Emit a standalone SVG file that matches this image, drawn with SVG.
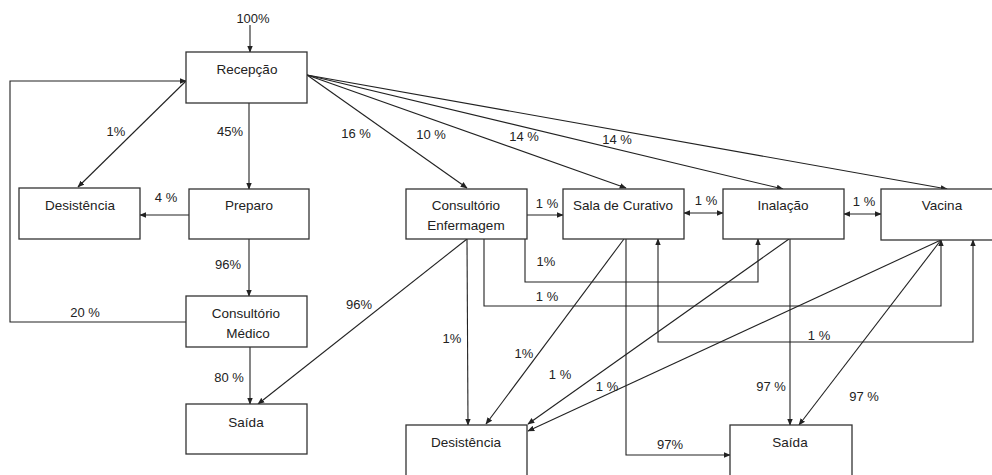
<svg xmlns="http://www.w3.org/2000/svg" width="992" height="475" viewBox="0 0 992 475">
<defs>
<marker id="ah" viewBox="0 0 10 10" refX="9" refY="5" markerWidth="7" markerHeight="7" orient="auto-start-reverse" markerUnits="userSpaceOnUse">
<path d="M0,1 L10,5 L0,9 z" fill="#222"/>
</marker>
<style>
.box{fill:#fff;stroke:#333;stroke-width:1.3}
.t{font-family:"Liberation Sans",Arial,sans-serif;font-size:13.5px;fill:#222;text-anchor:middle}
.l{font-family:"Liberation Sans",Arial,sans-serif;font-size:13px;fill:#222;text-anchor:middle}
.c{fill:none;stroke:#222;stroke-width:1.1}
.a{marker-end:url(#ah)}
.b{marker-start:url(#ah);marker-end:url(#ah)}
</style>
</defs>
<rect width="992" height="475" fill="#fff"/>
<g id="connectors">
<path class="c a" d="M250,25 V52"/>
<path class="c a" d="M249,103 V189"/>
<path class="c a" d="M189,215 H140"/>
<path class="c a" d="M186,81 L78,187"/>
<path class="c a" d="M249,239 V296"/>
<path class="c a" d="M186,322 H10 V81 H186"/>
<path class="c a" d="M250,347 V404"/>
<path class="c a" d="M467,239 L258,404"/>
<path class="c a" d="M467,239 L468,425"/>
<path class="c a" d="M307,75 L467,188"/>
<path class="c a" d="M307,75 L626,188"/>
<path class="c a" d="M307,75 L783,189"/>
<path class="c a" d="M307,75 L947,189"/>
<path class="c a" d="M527,215 H563"/>
<path class="c b" d="M684,213 H723"/>
<path class="c b" d="M844,214 H881"/>
<path class="c a" d="M525,239 V282 H758 V239"/>
<path class="c a" d="M484,239 V306 H941 V240"/>
<path class="c b" d="M658,239 V342 H973 V240"/>
<path class="c a" d="M626,239 V455 H730"/>
<path class="c a" d="M624,239 L486,424"/>
<path class="c a" d="M789,239 L528,424"/>
<path class="c a" d="M790,239 V425"/>
<path class="c a" d="M941,240 L528,431"/>
<path class="c a" d="M941,240 L799,425"/>
</g>
<g id="labels">
<text class="l" x="253" y="23">100%</text>
<text class="l" x="230" y="136">45%</text>
<text class="l" x="116" y="136">1%</text>
<text class="l" x="166" y="202">4 %</text>
<text class="l" x="228" y="269">96%</text>
<text class="l" x="85" y="317">20 %</text>
<text class="l" x="229" y="382">80 %</text>
<text class="l" x="359" y="309">96%</text>
<text class="l" x="452" y="343">1%</text>
<text class="l" x="356" y="138">16 %</text>
<text class="l" x="431" y="139">10 %</text>
<text class="l" x="524" y="141">14 %</text>
<text class="l" x="617" y="144">14 %</text>
<text class="l" x="547" y="208">1 %</text>
<text class="l" x="706" y="205">1 %</text>
<text class="l" x="864" y="206">1 %</text>
<text class="l" x="546" y="266">1%</text>
<text class="l" x="547" y="301">1 %</text>
<text class="l" x="819" y="340">1 %</text>
<text class="l" x="524" y="358">1%</text>
<text class="l" x="560" y="379">1 %</text>
<text class="l" x="607" y="391">1 %</text>
<text class="l" x="670" y="449">97%</text>
<text class="l" x="771" y="391">97 %</text>
<text class="l" x="864" y="401">97 %</text>
</g>
<g id="recepcao"><rect class="box" x="186" y="52" width="121" height="51"/><text class="t" x="247" y="74">Recepção</text></g>
<g id="desistencia1"><rect class="box" x="19" y="188" width="121" height="51"/><text class="t" x="80" y="210">Desistência</text></g>
<g id="preparo"><rect class="box" x="189" y="189" width="120" height="50"/><text class="t" x="249" y="210">Preparo</text></g>
<g id="consultorio-medico"><rect class="box" x="186" y="296" width="121" height="51"/><text class="t" x="246" y="318">Consultório</text><text class="t" x="248" y="338">Médico</text></g>
<g id="saida1"><rect class="box" x="186" y="404" width="121" height="50"/><text class="t" x="246" y="427">Saída</text></g>
<g id="consultorio-enfermagem"><rect class="box" x="406" y="189" width="121" height="50"/><text class="t" x="466" y="210">Consultório</text><text class="t" x="466" y="230">Enfermagem</text></g>
<g id="sala-curativo"><rect class="box" x="563" y="189" width="121" height="50"/><text class="t" x="623" y="210">Sala de Curativo</text></g>
<g id="inalacao"><rect class="box" x="723" y="189" width="121" height="50"/><text class="t" x="783" y="210">Inalação</text></g>
<g id="vacina"><rect class="box" x="881" y="189" width="121" height="51"/><text class="t" x="942" y="210">Vacina</text></g>
<g id="desistencia2"><rect class="box" x="406" y="425" width="121" height="60"/><text class="t" x="466" y="447">Desistência</text></g>
<g id="saida2"><rect class="box" x="730" y="425" width="122" height="60"/><text class="t" x="790" y="447">Saída</text></g>
</svg>
